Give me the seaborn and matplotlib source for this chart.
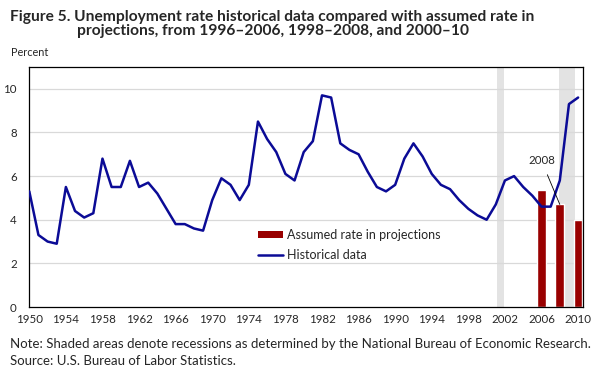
import matplotlib
matplotlib.use('Agg')
import matplotlib.pyplot as plt
import seaborn as sns
import pandas as pd
from matplotlib.patches import Patch
from matplotlib.lines import Line2D

# historical annual unemployment rate, 1950-2010
years = list(range(1950, 2011))
rates = [5.3, 3.3, 3.0, 2.9, 5.5, 4.4, 4.1, 4.3, 6.8, 5.5,
         5.5, 6.7, 5.5, 5.7, 5.2, 4.5, 3.8, 3.8, 3.6, 3.5,
         4.9, 5.9, 5.6, 4.9, 5.6, 8.5, 7.7, 7.1, 6.1, 5.8,
         7.1, 7.6, 9.7, 9.6, 7.5, 7.2, 7.0, 6.2, 5.5, 5.3,
         5.6, 6.8, 7.5, 6.9, 6.1, 5.6, 5.4, 4.9, 4.5, 4.2,
         4.0, 4.7, 5.8, 6.0, 5.5, 5.1, 4.6, 4.6, 5.8, 9.3,
         9.6]

# assumed rate in projections (target years)
proj_years = [2006, 2008, 2010]
proj_rates = [5.35, 4.7, 4.0]

# recession periods (shaded)
rec_start = [2001.1, 2007.95]
rec_end = [2001.85, 2009.7]

xtick_years = list(range(1950, 2011, 4))
ytick_vals = [0, 2, 4, 6, 8, 10]

LINE_COLOR = '#0b0b96'
BAR_COLOR = '#990000'
FONT = ['Lato', 'DejaVu Sans']


def main():
    sns.set_style('white')
    plt.rcParams['font.family'] = FONT

    hist = pd.DataFrame({'year': years, 'rate': rates})

    fig = plt.figure(figsize=(6.04, 3.72), dpi=100)
    ax = fig.add_axes([0.0485, 0.1747, 0.9162, 0.6452])

    for s, e in zip(rec_start, rec_end):
        ax.axvspan(s, e, color='#e3e3e3', lw=0, zorder=0)

    for v in ytick_vals[1:]:
        ax.axhline(v, color='#d9d9d9', lw=0.9, zorder=0.5)

    ax.bar(proj_years, proj_rates, width=0.95, color=BAR_COLOR, zorder=2)
    sns.lineplot(data=hist, x='year', y='rate', color=LINE_COLOR, lw=1.8,
                 ax=ax, zorder=3)

    ax.annotate('2008', xy=(2008.0, proj_rates[1]), xytext=(2006.0, 6.7),
                ha='center', va='center', fontsize=8.3,
                arrowprops=dict(arrowstyle='-', color='black', lw=0.6,
                                shrinkA=4, shrinkB=0),
                zorder=4)

    ax.set_xlim(1950, 2010.5)
    ax.set_ylim(0, 11)
    ax.set_xticks(xtick_years)
    ax.set_xticks(range(1950, 2011), minor=True)
    ax.set_xticklabels([str(y) for y in xtick_years])
    ax.set_yticks(ytick_vals)
    ax.tick_params(axis='x', which='both', direction='in', length=4,
                   width=0.7, labelsize=8.3, pad=5)
    ax.tick_params(axis='y', length=0, labelsize=8.3, pad=9)
    ax.set_xlabel('')
    ax.set_ylabel('')
    for sp in ax.spines.values():
        sp.set_visible(True)
        sp.set_color('black')
        sp.set_linewidth(0.9)

    handles = [Patch(facecolor=BAR_COLOR, edgecolor='none'),
               Line2D([0], [0], color=LINE_COLOR, lw=1.8)]
    ax.legend(handles, ['Assumed rate in projections', 'Historical data'],
              loc='upper left', bbox_to_anchor=(0.405, 0.345), frameon=False,
              fontsize=9, handlelength=2.0, handleheight=0.5,
              handletextpad=0.25, labelspacing=0.6, borderaxespad=0)

    fig.text(0.016, 1 - 20.7 / 372, 'Figure 5. Unemployment rate historical '
             'data compared with assumed rate in', fontsize=11.2,
             fontweight='bold', va='baseline')
    fig.text(0.127, 1 - 35 / 372, 'projections, from 1996\u20132006, '
             '1998\u20132008, and 2000\u201310', fontsize=11.2,
             fontweight='bold', va='baseline')
    fig.text(0.018, 1 - 55.5 / 372, 'Percent', fontsize=7.8, va='baseline')
    fig.text(0.016, 1 - 348.3 / 372, 'Note: Shaded areas denote recessions '
             'as determined by the National Bureau of Economic Research.',
             fontsize=9.5, va='baseline')
    fig.text(0.016, 1 - 365 / 372, 'Source: U.S. Bureau of Labor Statistics.',
             fontsize=9.5, va='baseline')

    fig.savefig('out.png', dpi=100)
    plt.close(fig)


if __name__ == '__main__':
    main()
